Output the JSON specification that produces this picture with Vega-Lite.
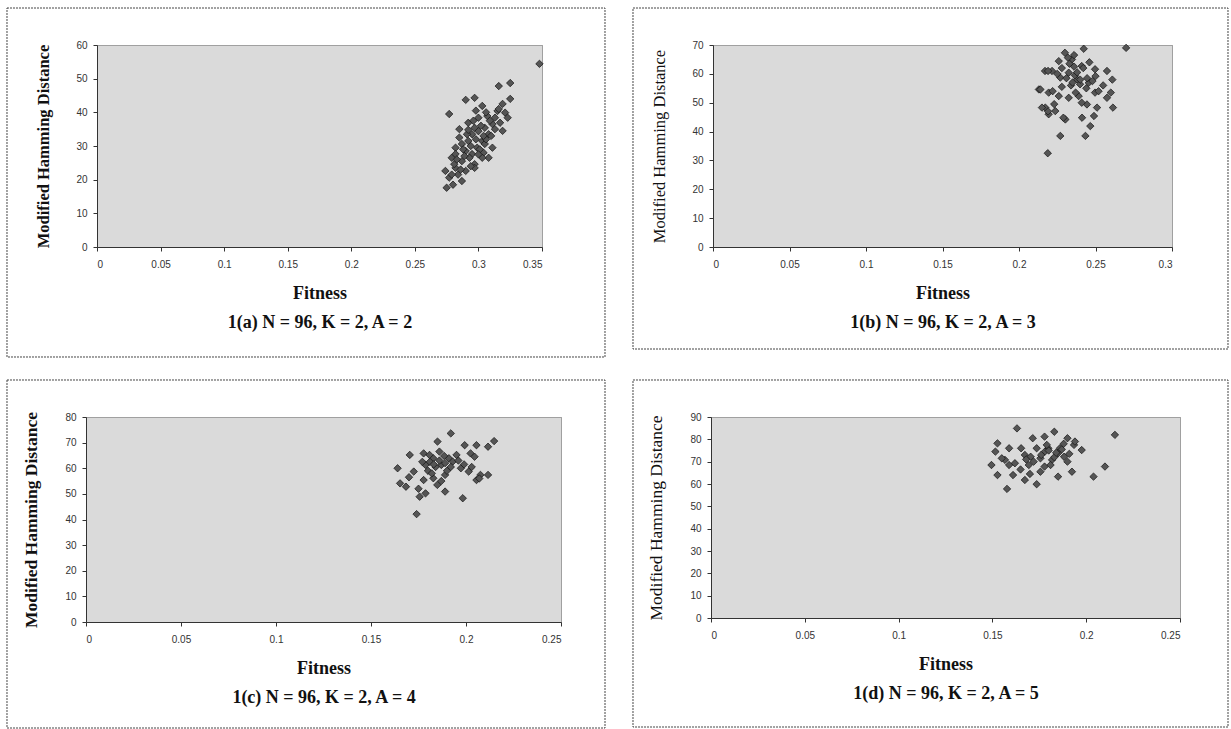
{
  "$schema": "https://vega.github.io/schema/vega-lite/v6.json",
  "background": "white",
  "padding": {"left": 5, "top": 7, "right": 4, "bottom": 1},
  "datasets": {
    "pts": [
      {"p":"a","f":0.348,"d":54.4},{"p":"a","f":0.316,"d":47.8},{"p":"a","f":0.325,"d":48.7},{"p":"a","f":0.325,"d":44},{"p":"a","f":0.290,"d":43.7},{"p":"a","f":0.297,"d":44.3},{"p":"a","f":0.303,"d":41.9},{"p":"a","f":0.277,"d":39.5},{"p":"a","f":0.321,"d":39.9},{"p":"a","f":0.317,"d":36.9},{"p":"a","f":0.319,"d":34.5},{"p":"a","f":0.300,"d":38.4},{"p":"a","f":0.297,"d":35.4},{"p":"a","f":0.305,"d":35.4},{"p":"a","f":0.311,"d":36.5},{"p":"a","f":0.285,"d":35},{"p":"a","f":0.285,"d":32.5},{"p":"a","f":0.292,"d":31.5},{"p":"a","f":0.303,"d":31.5},{"p":"a","f":0.311,"d":29.5},{"p":"a","f":0.308,"d":26.5},{"p":"a","f":0.282,"d":29.5},{"p":"a","f":0.290,"d":28.5},{"p":"a","f":0.279,"d":26.5},{"p":"a","f":0.287,"d":25.5},{"p":"a","f":0.297,"d":24.6},{"p":"a","f":0.295,"d":27.6},{"p":"a","f":0.274,"d":22.6},{"p":"a","f":0.282,"d":23.5},{"p":"a","f":0.277,"d":20.6},{"p":"a","f":0.287,"d":19.6},{"p":"a","f":0.275,"d":17.6},{"p":"a","f":0.297,"d":23.5},{"p":"a","f":0.300,"d":34.4},{"p":"a","f":0.295,"d":33.5},{"p":"a","f":0.308,"d":33.5},{"p":"a","f":0.313,"d":38.4},{"p":"a","f":0.315,"d":40.4},{"p":"a","f":0.307,"d":38.9},{"p":"a","f":0.292,"d":36.9},{"p":"a","f":0.287,"d":30.6},{"p":"a","f":0.299,"d":29.5},{"p":"a","f":0.293,"d":26.5},{"p":"a","f":0.281,"d":24.6},{"p":"a","f":0.304,"d":28},{"p":"a","f":0.319,"d":42.5},{"p":"a","f":0.323,"d":38.4},{"p":"a","f":0.303,"d":26.5},{"p":"a","f":0.290,"d":22.6},{"p":"a","f":0.305,"d":30.6},{"p":"a","f":0.282,"d":27.6},{"p":"a","f":0.298,"d":32},{"p":"a","f":0.302,"d":36},{"p":"a","f":0.289,"d":27},{"p":"a","f":0.284,"d":21.5},{"p":"a","f":0.310,"d":33},{"p":"a","f":0.294,"d":30},{"p":"a","f":0.306,"d":40},
      {"p":"a","f":0.291,"d":33.5},{"p":"a","f":0.296,"d":37.5},{"p":"a","f":0.301,"d":29},{"p":"a","f":0.306,"d":32},{"p":"a","f":0.288,"d":29},{"p":"a","f":0.283,"d":26},{"p":"a","f":0.300,"d":27.5},{"p":"a","f":0.309,"d":37.5},{"p":"a","f":0.313,"d":35},{"p":"a","f":0.294,"d":24},{"p":"a","f":0.286,"d":23},{"p":"a","f":0.279,"d":21.5},{"p":"a","f":0.316,"d":41},{"p":"a","f":0.304,"d":33},{"p":"a","f":0.292,"d":34.8},{"p":"a","f":0.298,"d":40.5},{"p":"a","f":0.280,"d":18.5},
      {"p":"b","f":0.2423,"d":68.7},{"p":"b","f":0.27,"d":69},{"p":"b","f":0.230,"d":67.3},{"p":"b","f":0.226,"d":64.4},{"p":"b","f":0.2346,"d":65},{"p":"b","f":0.241,"d":62.7},{"p":"b","f":0.2497,"d":61.6},{"p":"b","f":0.2216,"d":61},{"p":"b","f":0.217,"d":61},{"p":"b","f":0.2325,"d":60.4},{"p":"b","f":0.238,"d":58.1},{"p":"b","f":0.2456,"d":56.9},{"p":"b","f":0.213,"d":54.6},{"p":"b","f":0.2194,"d":53.5},{"p":"b","f":0.226,"d":52.3},{"p":"b","f":0.2325,"d":51.7},{"p":"b","f":0.239,"d":52.3},{"p":"b","f":0.2497,"d":53.5},{"p":"b","f":0.2444,"d":49.4},{"p":"b","f":0.2172,"d":48.3},{"p":"b","f":0.2237,"d":47.1},{"p":"b","f":0.2194,"d":46},{"p":"b","f":0.2412,"d":44.8},{"p":"b","f":0.249,"d":45.4},{"p":"b","f":0.2303,"d":44.2},{"p":"b","f":0.2466,"d":41.9},{"p":"b","f":0.227,"d":38.5},{"p":"b","f":0.2434,"d":38.5},{"p":"b","f":0.2188,"d":32.5},{"p":"b","f":0.261,"d":58},{"p":"b","f":0.2575,"d":61},{"p":"b","f":0.26,"d":53.5},{"p":"b","f":0.2614,"d":48.3},{"p":"b","f":0.2575,"d":51.7},{"p":"b","f":0.251,"d":48.3},{"p":"b","f":0.25,"d":59.2},{"p":"b","f":0.252,"d":54},{"p":"b","f":0.232,"d":65.6},{"p":"b","f":0.242,"d":62},{"p":"b","f":0.2399,"d":56.4},{"p":"b","f":0.219,"d":61},{"p":"b","f":0.227,"d":58.7},{"p":"b","f":0.214,"d":54.6},{"p":"b","f":0.219,"d":47},{"p":"b","f":0.215,"d":48.3},{"p":"b","f":0.229,"d":44.8},{"p":"b","f":0.2365,"d":59.5},{"p":"b","f":0.234,"d":56},{"p":"b","f":0.236,"d":62.5},{"p":"b","f":0.228,"d":55.5},{"p":"b","f":0.2445,"d":58.5},
      {"p":"b","f":0.228,"d":62},{"p":"b","f":0.233,"d":63.5},{"p":"b","f":0.238,"d":60.5},{"p":"b","f":0.240,"d":58},{"p":"b","f":0.235,"d":57},{"p":"b","f":0.231,"d":58.5},{"p":"b","f":0.225,"d":60},{"p":"b","f":0.222,"d":54},{"p":"b","f":0.237,"d":53.5},{"p":"b","f":0.244,"d":55},{"p":"b","f":0.248,"d":57.5},{"p":"b","f":0.255,"d":56},{"p":"b","f":0.241,"d":50},{"p":"b","f":0.223,"d":49.5},{"p":"b","f":0.236,"d":66.5},{"p":"b","f":0.246,"d":64},
      {"p":"c","f":0.192,"d":73.6},{"p":"c","f":0.2148,"d":70.6},{"p":"c","f":0.2116,"d":68.4},{"p":"c","f":0.2055,"d":69},{"p":"c","f":0.1993,"d":69},{"p":"c","f":0.185,"d":70.4},{"p":"c","f":0.1704,"d":65.2},{"p":"c","f":0.1777,"d":65.8},{"p":"c","f":0.2024,"d":65.8},{"p":"c","f":0.2045,"d":64.5},{"p":"c","f":0.1828,"d":63.9},{"p":"c","f":0.191,"d":63.9},{"p":"c","f":0.164,"d":60},{"p":"c","f":0.1725,"d":58.7},{"p":"c","f":0.1787,"d":61.3},{"p":"c","f":0.187,"d":61.3},{"p":"c","f":0.193,"d":62.6},{"p":"c","f":0.1973,"d":60},{"p":"c","f":0.2014,"d":58.7},{"p":"c","f":0.2076,"d":57.4},{"p":"c","f":0.2116,"d":57.4},{"p":"c","f":0.2055,"d":55.4},{"p":"c","f":0.189,"d":57.4},{"p":"c","f":0.1828,"d":56.1},{"p":"c","f":0.1777,"d":55.4},{"p":"c","f":0.1653,"d":54.1},{"p":"c","f":0.1684,"d":52.8},{"p":"c","f":0.1849,"d":53.5},{"p":"c","f":0.1787,"d":50.2},{"p":"c","f":0.1756,"d":48.9},{"p":"c","f":0.189,"d":50.9},{"p":"c","f":0.1983,"d":48.3},{"p":"c","f":0.174,"d":42.1},{"p":"c","f":0.1808,"d":65.2},{"p":"c","f":0.186,"d":66.5},{"p":"c","f":0.195,"d":65.2},{"p":"c","f":0.184,"d":60.5},{"p":"c","f":0.19,"d":59},{"p":"c","f":0.181,"d":62.5},{"p":"c","f":0.1885,"d":64.8},
      {"p":"c","f":0.183,"d":61.5},{"p":"c","f":0.186,"d":63},{"p":"c","f":0.189,"d":62},{"p":"c","f":0.192,"d":60.5},{"p":"c","f":0.180,"d":59},{"p":"c","f":0.177,"d":62.5},{"p":"c","f":0.196,"d":63},{"p":"c","f":0.199,"d":61.5},{"p":"c","f":0.203,"d":60.5},{"p":"c","f":0.207,"d":56},{"p":"c","f":0.170,"d":56.5},{"p":"c","f":0.175,"d":52},{"p":"c","f":0.182,"d":58},{"p":"c","f":0.187,"d":55},
      {"p":"d","f":0.1631,"d":84.9},{"p":"d","f":0.183,"d":83.4},{"p":"d","f":0.1778,"d":81.2},{"p":"d","f":0.2153,"d":82},{"p":"d","f":0.1527,"d":78.2},{"p":"d","f":0.1715,"d":80.5},{"p":"d","f":0.190,"d":80.5},{"p":"d","f":0.1935,"d":77.5},{"p":"d","f":0.1976,"d":75.2},{"p":"d","f":0.1589,"d":76},{"p":"d","f":0.1653,"d":76},{"p":"d","f":0.1736,"d":76},{"p":"d","f":0.1798,"d":76},{"p":"d","f":0.186,"d":76},{"p":"d","f":0.1516,"d":74.5},{"p":"d","f":0.1673,"d":73},{"p":"d","f":0.1756,"d":71.5},{"p":"d","f":0.1818,"d":70.8},{"p":"d","f":0.1882,"d":72.2},{"p":"d","f":0.1567,"d":70.8},{"p":"d","f":0.162,"d":69.3},{"p":"d","f":0.1495,"d":68.5},{"p":"d","f":0.1694,"d":68.5},{"p":"d","f":0.1778,"d":67.8},{"p":"d","f":0.1924,"d":65.5},{"p":"d","f":0.1756,"d":65.5},{"p":"d","f":0.1527,"d":64},{"p":"d","f":0.161,"d":64},{"p":"d","f":0.185,"d":63.3},{"p":"d","f":0.1673,"d":61.8},{"p":"d","f":0.1736,"d":59.9},{"p":"d","f":0.1578,"d":57.8},{"p":"d","f":0.2039,"d":63.3},{"p":"d","f":0.21,"d":67.8},{"p":"d","f":0.1704,"d":72.2},{"p":"d","f":0.185,"d":73.8},{"p":"d","f":0.1589,"d":68.5},{"p":"d","f":0.190,"d":70},{"p":"d","f":0.178,"d":74.5},{"p":"d","f":0.183,"d":72},
      {"p":"d","f":0.176,"d":73},{"p":"d","f":0.180,"d":75},{"p":"d","f":0.184,"d":74},{"p":"d","f":0.172,"d":70},{"p":"d","f":0.168,"d":71},{"p":"d","f":0.187,"d":75.5},{"p":"d","f":0.191,"d":73.5},{"p":"d","f":0.165,"d":66.5},{"p":"d","f":0.170,"d":64.5},{"p":"d","f":0.181,"d":68.5},{"p":"d","f":0.194,"d":79},{"p":"d","f":0.155,"d":71.5},{"p":"d","f":0.179,"d":77.5},{"p":"d","f":0.188,"d":78}
    ]
  },
  "vconcat": [
    {
      "bounds": "flush",
      "spacing": 10,
      "hconcat": [
        {
          "width": 1, "height": 1,
          "data": {"values": [{}]},
          "mark": {"type": "point", "opacity": 0},
          "encoding": {},
          "view": {"stroke": null, "fill": null}
        },
        {
          "bounds": "flush",
          "spacing": 171,
          "hconcat": [
            {
              "width": 445, "height": 202,
              "layer": [
                {
                  "data": {"values": [{}]},
                  "mark": {"type": "rect", "fill": "white", "fillOpacity": 0, "stroke": "#444", "strokeWidth": 1, "strokeDash": [2, 1]},
                  "encoding": {
                    "x": {"datum": -0.07079, "type": "quantitative", "scale": {"domain": [0, 0.35], "nice": false, "zero": false}, "axis": {"values": [0, 0.05, 0.1, 0.15, 0.2, 0.25, 0.3, 0.35], "format": "~g", "title": ["Fitness", "1(a) N = 96, K = 2, A = 2"]}},
                    "x2": {"datum": 0.39955},
                    "y": {"datum": -32.67, "type": "quantitative", "scale": {"domain": [0, 60], "nice": false, "zero": false}, "axis": {"values": [0, 10, 20, 30, 40, 50, 60], "title": "Modified Hamming Distance"}},
                    "y2": {"datum": 70.99}
                  }
                },
                {
                  "data": {"name": "pts"},
                  "transform": [{"filter": "datum.p == 'a'"}],
                  "mark": {"type": "point", "shape": "diamond", "filled": true, "size": 55, "fill": "#555", "stroke": "#111", "strokeWidth": 0.7, "opacity": 1},
                  "encoding": {
                    "x": {"field": "f", "type": "quantitative", "scale": {"domain": [0, 0.35], "nice": false, "zero": false}, "axis": {"values": [0, 0.05, 0.1, 0.15, 0.2, 0.25, 0.3, 0.35], "format": "~g", "title": ["Fitness", "1(a) N = 96, K = 2, A = 2"]}},
                    "y": {"field": "d", "type": "quantitative", "scale": {"domain": [0, 60], "nice": false, "zero": false}, "axis": {"values": [0, 10, 20, 30, 40, 50, 60], "title": "Modified Hamming Distance"}}
                  }
                }
              ]
            },
            {
              "width": 459, "height": 202,
              "layer": [
                {
                  "data": {"values": [{}]},
                  "mark": {"type": "rect", "fill": "white", "fillOpacity": 0, "stroke": "#444", "strokeWidth": 1, "strokeDash": [2, 1]},
                  "encoding": {
                    "x": {"datum": -0.05229, "type": "quantitative", "scale": {"domain": [0, 0.3], "nice": false, "zero": false}, "axis": {"values": [0, 0.05, 0.1, 0.15, 0.2, 0.25, 0.3], "format": "~g", "title": ["Fitness", "1(b) N = 96, K = 2, A = 3"]}},
                    "x2": {"datum": 0.3366},
                    "y": {"datum": -35.35, "type": "quantitative", "scale": {"domain": [0, 70], "nice": false, "zero": false}, "axis": {"values": [0, 10, 20, 30, 40, 50, 60, 70], "title": "Modified Hamming Distance", "titleFontWeight": "normal"}},
                    "y2": {"datum": 82.82}
                  }
                },
                {
                  "data": {"name": "pts"},
                  "transform": [{"filter": "datum.p == 'b'"}],
                  "mark": {"type": "point", "shape": "diamond", "filled": true, "size": 55, "fill": "#555", "stroke": "#111", "strokeWidth": 0.7, "opacity": 1},
                  "encoding": {
                    "x": {"field": "f", "type": "quantitative", "scale": {"domain": [0, 0.3], "nice": false, "zero": false}, "axis": {"values": [0, 0.05, 0.1, 0.15, 0.2, 0.25, 0.3], "format": "~g", "title": ["Fitness", "1(b) N = 96, K = 2, A = 3"]}},
                    "y": {"field": "d", "type": "quantitative", "scale": {"domain": [0, 70], "nice": false, "zero": false}, "axis": {"values": [0, 10, 20, 30, 40, 50, 60, 70], "title": "Modified Hamming Distance", "titleFontWeight": "normal"}}
                  }
                }
              ]
            }
          ]
        }
      ]
    },
    {
      "bounds": "flush",
      "spacing": 150,
      "hconcat": [
        {
          "width": 475, "height": 205,
          "layer": [
            {
              "data": {"values": [{}]},
              "mark": {"type": "rect", "fill": "white", "fillOpacity": 0, "stroke": "#444", "strokeWidth": 1, "strokeDash": [2, 1]},
              "encoding": {
                "x": {"datum": -0.04158, "type": "quantitative", "scale": {"domain": [0, 0.25], "nice": false, "zero": false}, "axis": {"values": [0, 0.05, 0.1, 0.15, 0.2, 0.25], "format": "~g", "title": ["Fitness", "1(c) N = 96, K = 2, A = 4"]}},
                "x2": {"datum": 0.27316},
                "y": {"datum": -41.37, "type": "quantitative", "scale": {"domain": [0, 80], "nice": false, "zero": false}, "axis": {"values": [0, 10, 20, 30, 40, 50, 60, 70, 80], "title": "Modified Hamming Distance", "titleFontSize": 17.5}},
                "y2": {"datum": 94.44}
              }
            },
            {
              "data": {"name": "pts"},
              "transform": [{"filter": "datum.p == 'c'"}],
              "mark": {"type": "point", "shape": "diamond", "filled": true, "size": 55, "fill": "#555", "stroke": "#111", "strokeWidth": 0.7, "opacity": 1},
              "encoding": {
                "x": {"field": "f", "type": "quantitative", "scale": {"domain": [0, 0.25], "nice": false, "zero": false}, "axis": {"values": [0, 0.05, 0.1, 0.15, 0.2, 0.25], "format": "~g", "title": ["Fitness", "1(c) N = 96, K = 2, A = 4"]}},
                "y": {"field": "d", "type": "quantitative", "scale": {"domain": [0, 80], "nice": false, "zero": false}, "axis": {"values": [0, 10, 20, 30, 40, 50, 60, 70, 80], "title": "Modified Hamming Distance", "titleFontSize": 17.5}}
              }
            }
          ]
        },
        {
          "width": 469, "height": 201,
          "layer": [
            {
              "data": {"values": [{}]},
              "mark": {"type": "rect", "fill": "white", "fillOpacity": 0, "stroke": "#444", "strokeWidth": 1, "strokeDash": [2, 1]},
              "encoding": {
                "x": {"datum": -0.04158, "type": "quantitative", "scale": {"domain": [0, 0.25], "nice": false, "zero": false}, "axis": {"values": [0, 0.05, 0.1, 0.15, 0.2, 0.25], "format": "~g", "title": ["Fitness", "1(d) N = 96, K = 2, A = 5"]}},
                "x2": {"datum": 0.27559},
                "y": {"datum": -48.81, "type": "quantitative", "scale": {"domain": [0, 90], "nice": false, "zero": false}, "axis": {"values": [0, 10, 20, 30, 40, 50, 60, 70, 80, 90], "title": "Modified Hamming Distance", "titleFontSize": 17.5, "titleFontWeight": "normal"}},
                "y2": {"datum": 106.57}
              }
            },
            {
              "data": {"name": "pts"},
              "transform": [{"filter": "datum.p == 'd'"}],
              "mark": {"type": "point", "shape": "diamond", "filled": true, "size": 55, "fill": "#555", "stroke": "#111", "strokeWidth": 0.7, "opacity": 1},
              "encoding": {
                "x": {"field": "f", "type": "quantitative", "scale": {"domain": [0, 0.25], "nice": false, "zero": false}, "axis": {"values": [0, 0.05, 0.1, 0.15, 0.2, 0.25], "format": "~g", "title": ["Fitness", "1(d) N = 96, K = 2, A = 5"]}},
                "y": {"field": "d", "type": "quantitative", "scale": {"domain": [0, 90], "nice": false, "zero": false}, "axis": {"values": [0, 10, 20, 30, 40, 50, 60, 70, 80, 90], "title": "Modified Hamming Distance", "titleFontSize": 17.5, "titleFontWeight": "normal"}}
              }
            }
          ]
        }
      ]
    }
  ],
  "spacing": 20,
  "config": {
    "view": {"fill": "#dadada", "stroke": "#555", "strokeDash": [1, 1]},
    "axis": {"grid": false, "domainColor": "#333", "tickColor": "#333", "tickSize": 4, "labelFont": "Liberation Sans", "labelFontSize": 10, "labelColor": "#333", "labelPadding": 6, "titleFont": "Liberation Serif", "titleFontWeight": "bold", "titleColor": "#111"},
    "axisX": {"labelPadding": 8, "titleFontSize": 18, "titlePadding": 15, "titleLineHeight": 29},
    "axisY": {"titleFontSize": 16.5, "titlePadding": 24}
  }
}
